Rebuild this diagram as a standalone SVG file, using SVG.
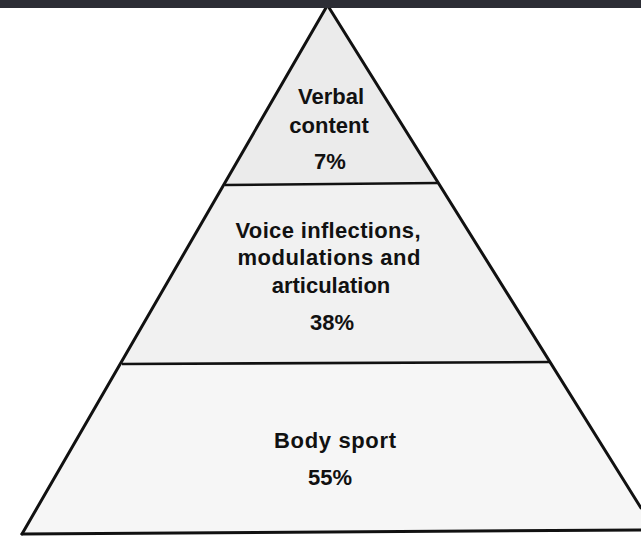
<svg xmlns="http://www.w3.org/2000/svg" width="641" height="536" viewBox="0 0 641 536">
<style>
.lbl{font-family:"Liberation Sans",Arial,sans-serif;font-weight:bold;font-size:22px;fill:#111;text-anchor:middle}
.edge{stroke:#111;stroke-width:3;fill:none;stroke-linecap:round}
.div{stroke:#111;stroke-width:2.6;fill:none}
</style>
<rect width="641" height="536" fill="#ffffff"/>
<g id="tier-top">
<polygon points="327,8 328,8 438,183 225,185" fill="#ebebeb"/>
<text class="lbl" x="331" y="104">Verbal</text>
<text class="lbl" x="329" y="133">content</text>
<text class="lbl" x="330" y="169">7%</text>
</g>
<g id="tier-middle">
<polygon points="225,185 438,183 550,362 122,364" fill="#f1f1f1"/>
<text class="lbl" x="328" y="238" textLength="185" lengthAdjust="spacing">Voice inflections,</text>
<text class="lbl" x="329" y="265" textLength="183" lengthAdjust="spacing">modulations and</text>
<text class="lbl" x="331" y="293">articulation</text>
<text class="lbl" x="332" y="330">38%</text>
</g>
<g id="tier-bottom">
<polygon points="122,364 550,362 641,508 641,530 22,534" fill="#f6f6f6"/>
<text class="lbl" x="335" y="448" textLength="122" lengthAdjust="spacing">Body sport</text>
<text class="lbl" x="330" y="485">55%</text>
</g>
<g id="connectors">
<line class="edge" x1="327" y1="6" x2="22" y2="534"/>
<line class="edge" x1="328" y1="6" x2="641" y2="508"/>
<line class="edge" x1="22" y1="534" x2="641" y2="530"/>
<line class="div" x1="225" y1="185" x2="438" y2="183"/>
<line class="div" x1="122" y1="364" x2="550" y2="362"/>
</g>
<rect x="0" y="0" width="641" height="8" fill="#2c2d35"/>
</svg>
